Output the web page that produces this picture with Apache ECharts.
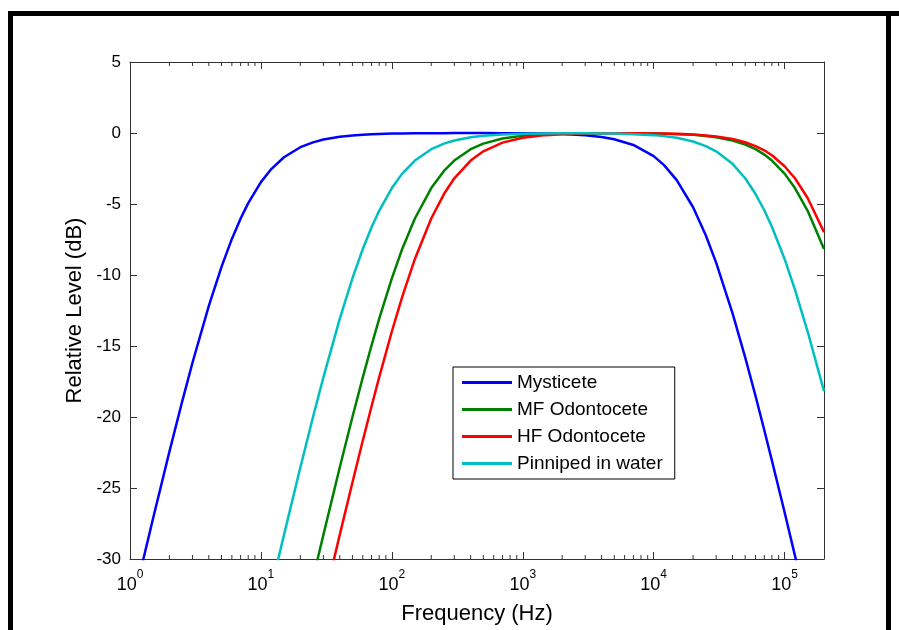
<!DOCTYPE html>
<html>
<head>
<meta charset="utf-8">
<script src="https://cdn.jsdelivr.net/npm/echarts@6/dist/echarts.min.js"></script>
<style>
  html, body { margin: 0; padding: 0; background: #fff; }
  #chart { width: 899px; height: 630px; }
</style>
</head>
<body>
<div id="chart"></div>
<script>
// Frequencies (Hz) at which each weighting curve is sampled
const frequencies = [1, 1.2, 1.5, 2, 2.5, 3, 4, 5, 6, 7, 8, 10, 12, 15, 20, 25, 30, 40, 50, 60, 70, 80,
  100, 120, 150, 200, 250, 300, 400, 500, 700, 1000, 1500, 2000, 3000, 4000, 5000, 7000,
  10000, 12000, 15000, 20000, 25000, 30000, 40000, 50000, 60000, 70000, 80000, 100000, 120000, 150000, 200000];

// Relative level (dB) per group; null = far below the plotted range
const mysticete = [-33.98, -30.89, -27.15, -22.44, -18.93, -16.18, -12.18, -9.43, -7.46, -6.02, -4.94, -3.46,
  -2.54, -1.71, -1.00, -0.66, -0.46, -0.26, -0.17, -0.12, -0.09, -0.07,
  -0.04, -0.03, -0.02, -0.01, -0.01, 0, 0, 0, -0.01, -0.02, -0.04, -0.07, -0.16, -0.28, -0.44, -0.84,
  -1.63, -2.26, -3.32, -5.23, -7.20, -9.13, -12.68, -15.80, -18.52, -20.93, -23.06, -26.71, -29.76, -33.53, -38.45];

const mfOdontocete = [null, null, null, null, null, null, null, null, null, null, null, null,
  null, null, -35.16, -31.36, -28.30, -23.56, -20.00, -17.21, -14.95, -13.09,
  -10.24, -8.17, -6.02, -3.88, -2.67, -1.94, -1.14, -0.75, -0.39, -0.19, -0.09, -0.05, -0.03, -0.02, -0.02, -0.02,
  -0.04, -0.05, -0.08, -0.13, -0.21, -0.30, -0.53, -0.81, -1.14, -1.52, -1.94, -2.86, -3.88, -5.48, -8.17];

const hfOdontocete = [null, null, null, null, null, null, null, null, null, null, null, null,
  null, null, null, -36.26, -33.15, -28.30, -24.61, -21.66, -19.24, -17.21,
  -13.98, -11.54, -8.87, -6.02, -4.30, -3.19, -1.94, -1.29, -0.68, -0.34, -0.15, -0.09, -0.04, -0.02, -0.02, -0.02,
  -0.03, -0.04, -0.06, -0.11, -0.17, -0.24, -0.42, -0.65, -0.92, -1.22, -1.57, -2.34, -3.19, -4.58, -6.98];

const pinnipedWater = [null, null, null, null, null, null, null, null, null, null, null, -35.16,
  -32.05, -28.30, -23.56, -20.00, -17.21, -13.09, -10.24, -8.17, -6.64, -5.48,
  -3.88, -2.86, -1.94, -1.14, -0.75, -0.53, -0.30, -0.19, -0.10, -0.05, -0.03, -0.02, -0.02, -0.03, -0.04, -0.08,
  -0.15, -0.22, -0.34, -0.60, -0.92, -1.29, -2.17, -3.19, -4.30, -5.44, -6.60, -8.87, -11.03, -13.98, -18.18];

const seriesNames = ['Mysticete', 'MF Odontocete', 'HF Odontocete', 'Pinniped in water'];
const seriesColors = ['#0000ff', '#008000', '#ff0000', '#00bfbf'];
const seriesValues = [mysticete, mfOdontocete, hfOdontocete, pinnipedWater];

// Axis ranges and ticks
const freqMin = 1, freqMax = 200000;
const levelMin = -30, levelMax = 5, levelStep = 5;
// Minor log ticks: 2..9 of each decade
const minorTickFreqs = [];
[1, 10, 100, 1000, 10000].forEach(d => { for (let m = 2; m <= 9; m++) minorTickFreqs.push(m * d); });

const FONT = '"Liberation Sans", Arial, Helvetica, sans-serif';
const AXIS_COLOR = '#333';

const chart = echarts.init(document.getElementById('chart'), null, { renderer: 'canvas' });

function pairs(vals) {
  return frequencies.map((f, i) => [f, vals[i]]);
}

const lineSeries = seriesNames.map((name, i) => ({
  name: name,
  type: 'line',
  data: pairs(seriesValues[i]),
  showSymbol: false,
  symbol: 'none',
  connectNulls: false,
  clip: true,
  lineStyle: { color: seriesColors[i], width: 2.5 },
  itemStyle: { color: seriesColors[i] },
  z: 3
}));

// Minor tick marks on the bottom and top edges of the plot box
const minorTickSeries = {
  type: 'custom',
  silent: true,
  data: minorTickFreqs.map(f => [f]),
  encode: { x: 0 },
  renderItem: function (params, api) {
    const cs = params.coordSys;
    const x = api.coord([api.value(0), levelMin])[0];
    const yb = cs.y + cs.height, yt = cs.y;
    const st = { stroke: AXIS_COLOR, lineWidth: 1 };
    return {
      type: 'group',
      children: [
        { type: 'line', shape: { x1: x, y1: yb, x2: x, y2: yb - 4 }, style: st },
        { type: 'line', shape: { x1: x, y1: yt, x2: x, y2: yt + 4 }, style: st }
      ]
    };
  },
  z: 2
};

function powerLabel(v) {
  const e = Math.log10(v);
  const r = Math.round(e);
  if (Math.abs(e - r) > 1e-6) return '';
  return '{b|10}{s|' + r + '}';
}

const boxAxisLine = { show: true, onZero: false, lineStyle: { color: AXIS_COLOR, width: 1 } };
const majorTick = { show: true, inside: true, length: 7, lineStyle: { color: AXIS_COLOR } };

const option = {
  backgroundColor: '#fff',
  animation: false,
  textStyle: { fontFamily: FONT },
  grid: { left: 130, top: 62, right: 75, bottom: 67, show: false },
  legend: {
    data: seriesNames,
    orient: 'vertical',
    left: 453,
    top: 367,
    icon: 'rect',
    itemWidth: 50,
    itemHeight: 3,
    itemGap: 8,
    padding: [6, 12, 6, 9],
    borderColor: '#000',
    borderWidth: 1,
    backgroundColor: '#fff',
    textStyle: { fontFamily: FONT, fontSize: 19, color: '#000' },
    selectedMode: false
  },
  xAxis: [
    {
      type: 'log', logBase: 10, min: freqMin, max: freqMax,
      position: 'bottom',
      name: 'Frequency (Hz)', nameLocation: 'middle', nameGap: 44,
      nameTextStyle: { fontFamily: FONT, fontSize: 22, color: '#000' },
      axisLine: boxAxisLine,
      axisTick: majorTick,
      axisLabel: {
        margin: 10, showMaxLabel: false,
        formatter: powerLabel,
        rich: {
          b: { fontFamily: FONT, fontSize: 18, color: '#000', lineHeight: 25, verticalAlign: 'bottom' },
          s: { fontFamily: FONT, fontSize: 12, color: '#000', lineHeight: 12, verticalAlign: 'top' }
        }
      },
      splitLine: { show: false }
    },
    {
      type: 'log', logBase: 10, min: freqMin, max: freqMax,
      position: 'top',
      axisLine: boxAxisLine,
      axisTick: majorTick,
      axisLabel: { show: false },
      splitLine: { show: false }
    }
  ],
  yAxis: [
    {
      type: 'value', min: levelMin, max: levelMax, interval: levelStep,
      position: 'left',
      name: 'Relative Level (dB)', nameLocation: 'middle', nameGap: 41,
      nameTextStyle: { fontFamily: FONT, fontSize: 22, color: '#000' },
      axisLine: boxAxisLine,
      axisTick: majorTick,
      axisLabel: { margin: 9, fontFamily: FONT, fontSize: 17, color: '#000' },
      splitLine: { show: false }
    },
    {
      type: 'value', min: levelMin, max: levelMax, interval: levelStep,
      position: 'right',
      axisLine: boxAxisLine,
      axisTick: majorTick,
      axisLabel: { show: false },
      splitLine: { show: false }
    }
  ],
  graphic: [
    // Black figure frame
    { type: 'rect', shape: { x: 8, y: 11, width: 891, height: 5 }, style: { fill: '#000' }, silent: true },
    { type: 'rect', shape: { x: 8, y: 11, width: 5, height: 619 }, style: { fill: '#000' }, silent: true },
    { type: 'rect', shape: { x: 886, y: 11, width: 5, height: 619 }, style: { fill: '#000' }, silent: true }
  ],
  series: lineSeries.concat([minorTickSeries])
};

chart.setOption(option);
</script>
</body>
</html>
